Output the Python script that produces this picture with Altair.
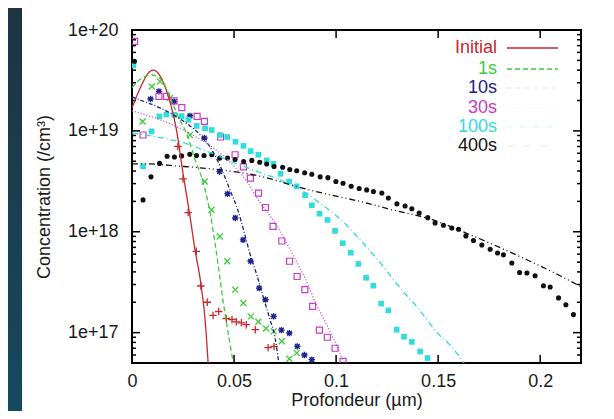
import altair as alt
import pandas as pd

# ---------------- data (depth in µm, concentration in /cm^3) ----------------
series_names = ["Initial", "1s", "10s", "30s", "100s", "400s"]
series_colors = ["#c8282c", "#3ccc3c", "#1c2288", "#c83cc8", "#30dcdc", "#111111"]

# Initial (as-implanted)
init_line_x = [0.0, 0.0049, 0.0078, 0.0103, 0.0127, 0.0157, 0.0186, 0.0216, 0.025, 0.0283, 0.0307, 0.0338, 0.0358, 0.0373]
init_line_y = [1.69e19, 2.9e19, 3.7e19, 4.0e19, 3.75e19, 2.9e19, 1.94e19, 1.07e19, 3.8e18, 1.47e18, 6.95e17, 2.99e17, 1.35e17, 5.0e16]
init_pts_x = [0.0225, 0.025, 0.0275, 0.0315, 0.0337, 0.0369, 0.0397, 0.0425, 0.0462, 0.049, 0.0511, 0.0536, 0.056, 0.0604, 0.0667, 0.0696]
init_pts_y = [7.0e18, 3.35e18, 1.55e18, 6.4e17, 2.9e17, 2.0e17, 1.48e17, 1.62e17, 1.38e17, 1.35e17, 1.28e17, 1.25e17, 1.2e17, 1.07e17, 7.1e16, 7.3e16]

# 1 s
s1_line_x = [0.0, 0.0049, 0.0098, 0.0152, 0.0186, 0.0225, 0.027, 0.0309, 0.0348, 0.0387, 0.041, 0.0454, 0.0495]
s1_line_y = [2.67e19, 3.35e19, 3.58e19, 3.05e19, 2.17e19, 1.41e19, 9.1e18, 5.2e18, 3.13e18, 1.38e18, 6.95e17, 1.63e17, 5.2e16]
s1_pts_x = [0.0052, 0.0097, 0.0137, 0.0186, 0.0284, 0.0356, 0.0389, 0.043, 0.0467, 0.0506, 0.0546, 0.0582, 0.0619, 0.0657, 0.0694, 0.0734, 0.0771, 0.0807]
s1_pts_y = [1.24e19, 2.75e19, 3.08e19, 2.12e19, 9.1e18, 3.15e18, 1.65e18, 8.98e17, 5.1e17, 2.67e17, 1.97e17, 1.45e17, 1.28e17, 1.1e17, 1.03e17, 8.2e16, 5.5e16, 6.3e16]

# 10 s
s10_line_x = [0.0, 0.0064, 0.0137, 0.0211, 0.0284, 0.0348, 0.0397, 0.0436, 0.048, 0.052, 0.0549, 0.0578, 0.0613, 0.0647, 0.0676, 0.0701, 0.0718]
s10_line_y = [2.17e19, 1.94e19, 1.69e19, 1.41e19, 1.12e19, 8.5e18, 6.2e18, 4.3e18, 2.6e18, 1.61e18, 1.0e18, 6.05e17, 3.66e17, 2.12e17, 1.35e17, 8.9e16, 5.2e16]
s10_pts_x = [0.0091, 0.0132, 0.0207, 0.0284, 0.0355, 0.0429, 0.0468, 0.0506, 0.0544, 0.0581, 0.0623, 0.0654, 0.0694, 0.0732, 0.0771, 0.081, 0.0845, 0.0881]
s10_pts_y = [2.07e19, 2.46e19, 1.95e19, 1.41e19, 8.5e18, 3.95e18, 2.38e18, 1.37e18, 8.3e17, 5.1e17, 2.76e17, 2.12e17, 1.45e17, 1.06e17, 9.9e16, 7.3e16, 6.0e16, 5.4e16]

# 30 s
s30_line_x = [0.0, 0.0176, 0.0314, 0.0397, 0.0485, 0.0564, 0.0618, 0.0676, 0.0725, 0.077, 0.0814, 0.0858, 0.0897, 0.0936, 0.0985, 0.1015, 0.1034]
s30_line_y = [1.58e19, 1.2e19, 8.7e18, 6.8e18, 4.8e18, 3.13e18, 2.07e18, 1.44e18, 1.02e18, 6.95e17, 4.7e17, 3.13e17, 2.03e17, 1.41e17, 8.9e16, 6.5e16, 5.2e16]
s30_pts_x = [0.0013, 0.0054, 0.0132, 0.0169, 0.0206, 0.0244, 0.0319, 0.0355, 0.0434, 0.0505, 0.0546, 0.058, 0.062, 0.0654, 0.0691, 0.0734, 0.0772, 0.0809, 0.0847, 0.0885, 0.0918, 0.0957, 0.0995, 0.1034]
s30_pts_y = [7.7e19, 9.1e18, 2.2e19, 2.2e19, 1.98e19, 1.7e19, 1.39e19, 1.24e19, 8.7e18, 5.8e18, 4.4e18, 3.4e18, 2.42e18, 1.74e18, 1.13e18, 8.1e17, 5.1e17, 3.6e17, 2.67e17, 1.82e17, 1.06e17, 9.0e16, 7.0e16, 5.2e16]

# 100 s
s100_line_x = [0.0, 0.0123, 0.0255, 0.0387, 0.0505, 0.0618, 0.0735, 0.0833, 0.0926, 0.1025, 0.1118, 0.1216, 0.1309, 0.1407, 0.1495, 0.1564, 0.1627]
s100_line_y = [9.55e18, 8.7e18, 7.6e18, 6.05e18, 4.8e18, 3.93e18, 3.2e18, 2.55e18, 1.89e18, 1.31e18, 8.3e17, 4.93e17, 2.85e17, 1.69e17, 1.0e17, 7.3e16, 5.0e16]
s100_pts_x = [0.0007, 0.0054, 0.0096, 0.0134, 0.0168, 0.0206, 0.0243, 0.0276, 0.0317, 0.0358, 0.0391, 0.0431, 0.0467, 0.0507, 0.0546, 0.0581, 0.0619, 0.066, 0.0693, 0.0728, 0.077, 0.0807, 0.0848, 0.0881, 0.0919, 0.0958, 0.0995, 0.1033, 0.1072, 0.1109, 0.1147, 0.1183, 0.1221, 0.1256, 0.1297, 0.1333, 0.1371, 0.1412, 0.1448]
s100_pts_y = [4.46e19, 4.46e18, 9.9e18, 1.39e19, 1.45e19, 1.44e19, 1.4e19, 1.29e19, 1.12e19, 1.06e19, 1.02e19, 9.1e18, 8.7e18, 7.8e18, 7.1e18, 6.3e18, 5.8e18, 5.1e18, 4.7e18, 3.75e18, 3.15e18, 2.82e18, 2.3e18, 1.83e18, 1.51e18, 1.31e18, 1.02e18, 7.7e17, 6.2e17, 4.8e17, 3.5e17, 2.92e17, 1.94e17, 1.66e17, 1.07e17, 9.1e16, 8.1e16, 6.5e16, 5.6e16]

# 400 s
s400_line_x = [0.0, 0.0088, 0.0211, 0.0363, 0.048, 0.0642, 0.0809, 0.0971, 0.1103, 0.1275, 0.1475, 0.1632, 0.1804, 0.1966, 0.2098, 0.22]
s400_line_y = [4.7e18, 4.7e18, 4.5e18, 4.25e18, 4.0e18, 3.5e18, 2.8e18, 2.32e18, 2.03e18, 1.65e18, 1.31e18, 9.8e17, 6.95e17, 4.93e17, 3.66e17, 2.85e17]
s400_pts_x = [0.0012, 0.0054, 0.0093, 0.0135, 0.0172, 0.0208, 0.0243, 0.0283, 0.0316, 0.0353, 0.0391, 0.043, 0.0468, 0.0505, 0.0547, 0.0587, 0.0626, 0.066, 0.0696, 0.0738, 0.0773, 0.0807, 0.0846, 0.0881, 0.0922, 0.096, 0.0999, 0.1034, 0.1074, 0.1113, 0.115, 0.1183, 0.1224, 0.1256, 0.1298, 0.1338, 0.1371, 0.1407, 0.1449, 0.1485, 0.1526, 0.1567, 0.16, 0.1636, 0.1673, 0.1714, 0.1755, 0.1791, 0.182, 0.1861, 0.1899, 0.1935, 0.1975, 0.2016, 0.2049, 0.209, 0.2126, 0.2163]
s400_pts_y = [4.9e19, 2.07e18, 3.5e18, 4.76e18, 5.6e18, 5.5e18, 5.65e18, 5.85e18, 5.7e18, 5.7e18, 5.8e18, 5.37e18, 5.37e18, 5.2e18, 4.97e18, 5.1e18, 4.88e18, 4.69e18, 4.44e18, 4.36e18, 4.14e18, 4.02e18, 3.84e18, 3.71e18, 3.5e18, 3.44e18, 3.15e18, 3.03e18, 2.83e18, 2.68e18, 2.6e18, 2.51e18, 2.42e18, 2.16e18, 1.89e18, 1.8e18, 1.69e18, 1.53e18, 1.38e18, 1.22e18, 1.16e18, 1.09e18, 1.06e18, 9.1e17, 8.2e17, 7.4e17, 6.7e17, 6.15e17, 5.9e17, 4.9e17, 3.95e17, 3.9e17, 3.66e17, 2.92e17, 2.83e17, 2.21e17, 1.89e17, 1.51e17]

x_tick_values = [0, 0.05, 0.1, 0.15, 0.2]
y_tick_values = [1e17, 1e18, 1e19, 1e20]
y_minor_values = [m * 10.0 ** e for e in (16, 17, 18, 19) for m in range(2, 10) if m * 10.0 ** e >= 5e16]

# ---------------- styling ----------------
W, H = 449, 333
FONT = "Liberation Sans"
xs = alt.Scale(domain=[0, 0.22], nice=False, zero=False)
ys = alt.Scale(type="log", domain=[5e16, 1e20], nice=False)

x_axis = alt.Axis(
    values=x_tick_values, format="~g", grid=False, ticks=False, tickSize=0, domain=False,
    labelFont=FONT, labelFontSize=18, labelColor="#1a1a1a", labelPadding=9, labelFlush=False,
    title="Profondeur (µm)", titleFont=FONT, titleFontSize=18, titleFontWeight="normal",
    titleColor="#1a1a1a", titleY=28, titleBaseline="top")
y_axis = alt.Axis(
    values=y_tick_values, format=".0e", grid=False, ticks=False, tickSize=0, domain=False,
    labelFont=FONT, labelFontSize=18, labelColor="#1a1a1a", labelPadding=14, labelFlush=False,
    title="Concentration (/cm³)", titleFont=FONT, titleFontSize=18, titleFontWeight="normal",
    titleColor="#1a1a1a", titleX=-88, titleY=H / 2, titleBaseline="middle", titleAngle=270)


def X():
    return alt.X("x:Q", scale=xs, axis=x_axis, title="Profondeur (µm)")


def Y():
    return alt.Y("y:Q", scale=ys, axis=y_axis, title="Concentration (/cm³)")


line_dash = {
    "Initial": [1, 0],
    "1s": [5, 3],
    "10s": [4, 2, 1, 2],
    "30s": [1, 2],
    "100s": [6, 3, 1, 3],
    "400s": [6, 3, 1, 3, 1, 3],
}
PLUS = "M-1,0L1,0M0,-1L0,1"
CROSS = "M-1,-1L1,1M-1,1L1,-1"
STAR = "M-1,0L1,0M0,-1L0,1M-0.75,-0.75L0.75,0.75M-0.75,0.75L0.75,-0.75"
point_style = {
    "Initial": dict(shape=PLUS, filled=False, size=56, strokeWidth=1.3),
    "1s": dict(shape=CROSS, filled=False, size=36, strokeWidth=1.3),
    "10s": dict(shape=STAR, filled=False, size=40, strokeWidth=1.4),
    "30s": dict(shape="square", filled=False, size=36, strokeWidth=1.2),
    "100s": dict(shape="square", filled=True, size=32, strokeWidth=0),
    "400s": dict(shape="circle", filled=True, size=26, strokeWidth=0),
}

data_sets = {
    "Initial": (init_line_x, init_line_y, init_pts_x, init_pts_y),
    "1s": (s1_line_x, s1_line_y, s1_pts_x, s1_pts_y),
    "10s": (s10_line_x, s10_line_y, s10_pts_x, s10_pts_y),
    "30s": (s30_line_x, s30_line_y, s30_pts_x, s30_pts_y),
    "100s": (s100_line_x, s100_line_y, s100_pts_x, s100_pts_y),
    "400s": (s400_line_x, s400_line_y, s400_pts_x, s400_pts_y),
}

one = pd.DataFrame({"k": [0]})
layers = []

# axis carrier (invisible) with labels and titles
axis_df = pd.DataFrame({"x": [0.0, 0.22], "y": [5e16, 1e20]})
layers.append(alt.Chart(axis_df).mark_point(opacity=0).encode(x=X(), y=Y()))

# dark slide strip at the left
grad = alt.LinearGradient(
    gradient="linear", x1=0, y1=0, x2=0, y2=1,
    stops=[alt.GradientStop(color="#1f3441", offset=0),
           alt.GradientStop(color="#15495f", offset=1)],
)
layers.append(
    alt.Chart(one).mark_rect(color=grad).encode(
        x=alt.value(-124), x2=alt.value(-110), y=alt.value(-22), y2=alt.value(H + 48)
    )
)

# inward ticks (gnuplot style)
ymaj = pd.DataFrame({"y": y_tick_values})
ymin = pd.DataFrame({"y": y_minor_values})
xmaj = pd.DataFrame({"x": x_tick_values})
tick_kw = dict(color="black", strokeWidth=1.5)
for df, ln in ((ymaj, 8), (ymin, 4)):
    layers.append(alt.Chart(df).mark_rule(**tick_kw).encode(
        y=Y(), x=alt.value(0), x2=alt.value(ln)))
    layers.append(alt.Chart(df).mark_rule(**tick_kw).encode(
        y=Y(), x=alt.value(W), x2=alt.value(W - ln)))
layers.append(alt.Chart(xmaj).mark_rule(**tick_kw).encode(
    x=X(), y=alt.value(H), y2=alt.value(H - 8)))
layers.append(alt.Chart(xmaj).mark_rule(**tick_kw).encode(
    x=X(), y=alt.value(0), y2=alt.value(8)))

# data: points then fitted lines
for name, color in zip(series_names, series_colors):
    lx, ly, px, py = data_sets[name]
    pdf = pd.DataFrame({"x": px, "y": py})
    st = point_style[name]
    pt_kw = dict(shape=st["shape"], filled=st["filled"], size=st["size"], clip=True, opacity=1)
    if st["filled"]:
        pt_kw["fill"] = color
        pt_kw["strokeWidth"] = 0
    else:
        pt_kw["stroke"] = color
        pt_kw["strokeWidth"] = st["strokeWidth"]
    layers.append(alt.Chart(pdf).mark_point(**pt_kw).encode(x=X(), y=Y()))
for name, color in zip(series_names, series_colors):
    lx, ly, px, py = data_sets[name]
    ldf = pd.DataFrame({"x": lx, "y": ly})
    layers.append(alt.Chart(ldf).mark_line(
        color=color, strokeWidth=1.3, strokeDash=line_dash[name], clip=True, interpolate="monotone").encode(
        x=X(), y=Y()))

# legend (inside, top right)
legend_y = [18, 39, 58, 78, 97, 116]
legend_opacity = [1, 1, 0.08, 0.08, 0.12, 0.06]
for name, color, yy, op in zip(series_names, series_colors, legend_y, legend_opacity):
    layers.append(alt.Chart(pd.DataFrame({"label": [name]})).mark_text(
        align="right", baseline="middle", font=FONT, fontSize=18, color=color).encode(
        text="label:N", x=alt.value(365), y=alt.value(yy)))
    layers.append(alt.Chart(one).mark_rule(
        color=color, strokeWidth=1.3, strokeDash=line_dash[name], opacity=op).encode(
        x=alt.value(375), x2=alt.value(426), y=alt.value(yy)))

chart = alt.layer(*layers).properties(
    width=W, height=H,
    autosize=alt.AutoSizeParams(type="none"),
    padding={"left": 124, "top": 22, "right": 25, "bottom": 48},
    background="white",
).configure_view(stroke="black", strokeWidth=2)

chart.save("out.html", embed_options={"renderer": "svg", "actions": False})
